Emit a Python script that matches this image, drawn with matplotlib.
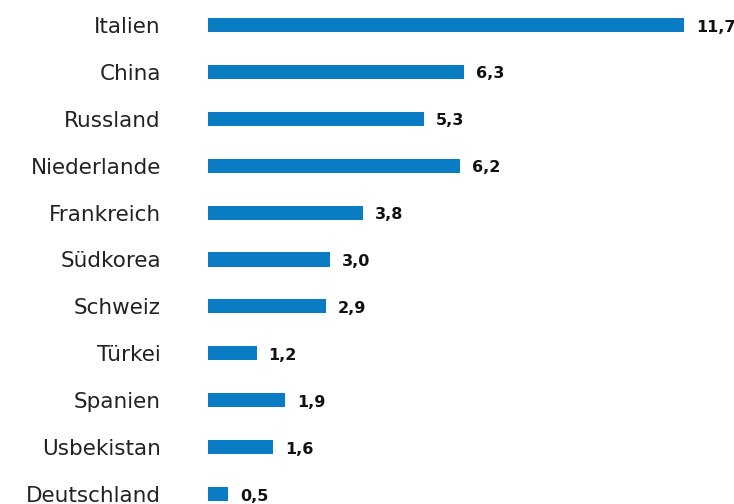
import matplotlib
matplotlib.use("Agg")
import matplotlib.pyplot as plt

# Daten
laender = ["Italien", "China", "Russland", "Niederlande", "Frankreich", "Südkorea",
           "Schweiz", "Türkei", "Spanien", "Usbekistan", "Deutschland"]
werte = [11.7, 6.3, 5.3, 6.2, 3.8, 3.0, 2.9, 1.2, 1.9, 1.6, 0.5]
wert_labels = ["11,7", "6,3", "5,3", "6,2", "3,8", "3,0", "2,9", "1,2", "1,9", "1,6", "0,5"]

BAR_COLOR = "#0a7cc4"

fig = plt.figure(figsize=(7.34, 5.04), dpi=100)
ax = fig.add_axes([208 / 734, 0, 526 / 734, 1])

pos = list(range(len(laender)))
ax.barh(pos, werte, height=0.30, color=BAR_COLOR)

# Werte rechts neben den Balken
for p, v, lab in zip(pos, werte, wert_labels):
    ax.annotate(lab, (v, p), xytext=(8.5, -1.5), textcoords="offset points",
                ha="left", va="center", fontsize=11.5, fontweight="bold", color="#111111")

ax.set_xlim(0, 526 / 40.7)
ax.set_ylim((504 - 25) / 46.9, -25 / 46.9)

ax.set_yticks(pos)
ax.set_yticklabels(laender, fontsize=15.5, color="#222222")
ax.tick_params(axis="y", length=0, pad=34)
ax.set_xticks([])
for s in ax.spines.values():
    s.set_visible(False)

fig.savefig("out.png", dpi=100)
